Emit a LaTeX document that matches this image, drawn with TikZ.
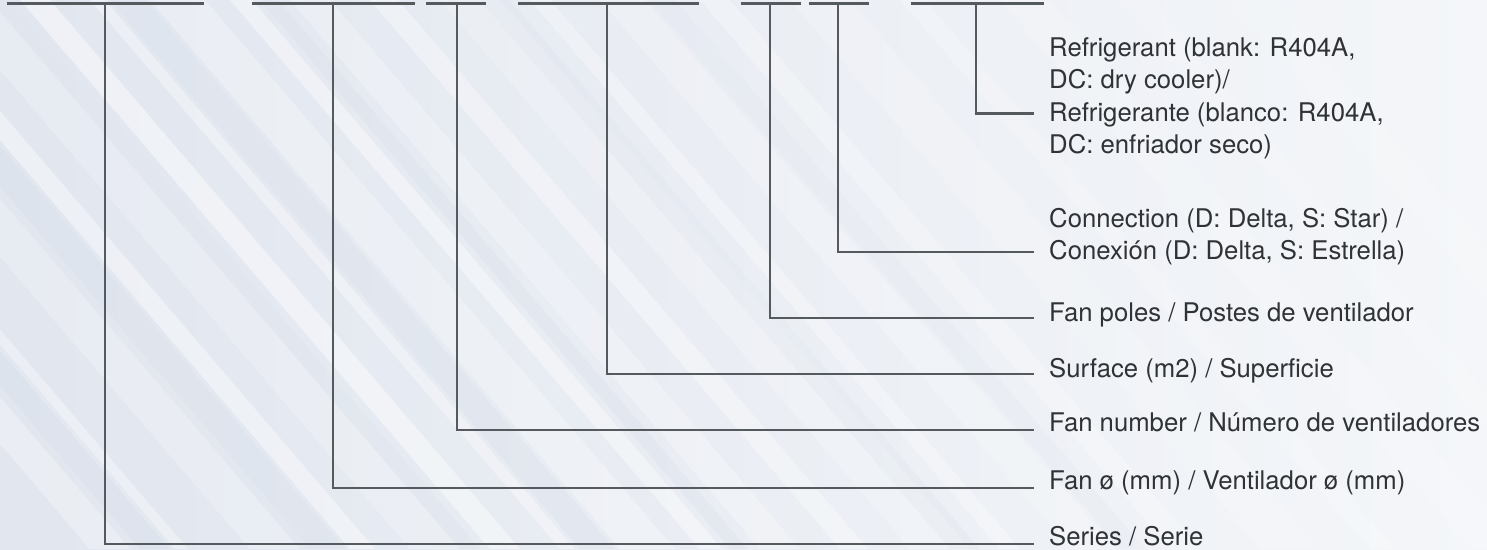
\documentclass[tikz,border=0pt]{standalone}
\usepackage{fontspec}
\setmainfont{TeX Gyre Heros}
\definecolor{bgL}{HTML}{E1E6EF}
\definecolor{bgR}{HTML}{F4F6F9}
\definecolor{streakD}{HTML}{D8DFEA}
\definecolor{linec}{HTML}{555A5F}
\definecolor{txtc}{HTML}{303336}
\begin{document}
\begin{tikzpicture}[x=1pt,y=-1pt,
  conn/.style={draw=linec, line width=2.8pt, line join=miter},
  codebar/.style={draw=linec, line width=3pt},
  lab/.style={anchor=base west, inner sep=0pt, text=txtc, font=\fontsize{25.7}{32}\selectfont}]
\useasboundingbox (0,0) rectangle (1487,549);
% background
\fill[left color=bgL, right color=bgR] (0,0) rectangle (1487,549);
\begin{scope}
\clip (0,0) rectangle (1487,549);
\foreach \x/\w/\o in {-380/40/0.3, -300/18/0.35, -220/60/0.22, -120/25/0.4, -60/70/0.2, 20/30/0.45, 90/15/0.35, 150/55/0.28, 230/22/0.4, 290/40/0.25, 370/28/0.35, 440/60/0.2, 530/20/0.3, 600/45/0.22, 700/30/0.25, 790/60/0.18, 900/25/0.2, 1000/50/0.18, 1120/30/0.15, 1230/45/0.12}
  \fill[white, opacity=\o] (\x,0) -- (\x+\w,0) -- (\x+\w+470,549) -- (\x+470,549) -- cycle;
\foreach \x/\w/\o in {-330/35/0.4, -170/45/0.35, -10/20/0.4, 110/35/0.3, 260/18/0.3, 480/30/0.2, 650/25/0.15}
  \fill[streakD, opacity=\o] (\x,0) -- (\x+\w,0) -- (\x+\w+470,549) -- (\x+470,549) -- cycle;
\end{scope}
% code bars
\coordinate (b1l) at (7,3.5);   \coordinate (b1r) at (204,3.5);  \coordinate (b1m) at (105,3.5);
\coordinate (b2l) at (252,3);   \coordinate (b2r) at (415,3);    \coordinate (b2m) at (333,3);
\coordinate (b3l) at (426,3);   \coordinate (b3r) at (486,3);    \coordinate (b3m) at (457,3);
\coordinate (b4l) at (518,3);   \coordinate (b4r) at (699,3);    \coordinate (b4m) at (607,3);
\coordinate (b5l) at (741,3);   \coordinate (b5r) at (801,3);    \coordinate (b5m) at (770,3);
\coordinate (b6l) at (809,3);   \coordinate (b6r) at (869,3);    \coordinate (b6m) at (838,3);
\coordinate (b7l) at (911,3);   \coordinate (b7r) at (1044,3);   \coordinate (b7m) at (976,3);
\foreach \i in {1,...,7} \draw[codebar] (b\i l) -- (b\i r);
% labels
\node[lab] (r1) at (1049,56.5) {Refrigerant (blank: R404A,};
\node[lab] (r2) at (1049,88.5) {DC: dry cooler)/};
\node[lab] (r3) at (1049,121) {Refrigerante (blanco: R404A,};
\node[lab] (r4) at (1049,153) {DC: enfriador seco)};
\node[lab] (c1) at (1049,227) {Connection (D: Delta, S: Star) /};
\node[lab] (c2) at (1049,259) {Conexión (D: Delta, S: Estrella)};
\node[lab] (fp) at (1049,321.5) {Fan poles / Postes de ventilador};
\node[lab] (sf) at (1049,377.5) {Surface (m2) / Superficie};
\node[lab] (fn) at (1049,431) {Fan number / Número de ventiladores};
\node[lab] (fd) at (1049,489.5) {Fan ø (mm) / Ventilador ø (mm)};
\node[lab] (se) at (1049,545.5) {Series / Serie};
% connector ends
\coordinate (e7) at (1034,113.5);
\coordinate (e6) at (1034,252);
\coordinate (e5) at (1034,318);
\coordinate (e4) at (1034,374);
\coordinate (e3) at (1034,430);
\coordinate (e2) at (1034,488);
\coordinate (e1) at (1034,544);
\foreach \i in {1,...,7} \draw[conn] (b\i m) |- (e\i);
\end{tikzpicture}
\end{document}
